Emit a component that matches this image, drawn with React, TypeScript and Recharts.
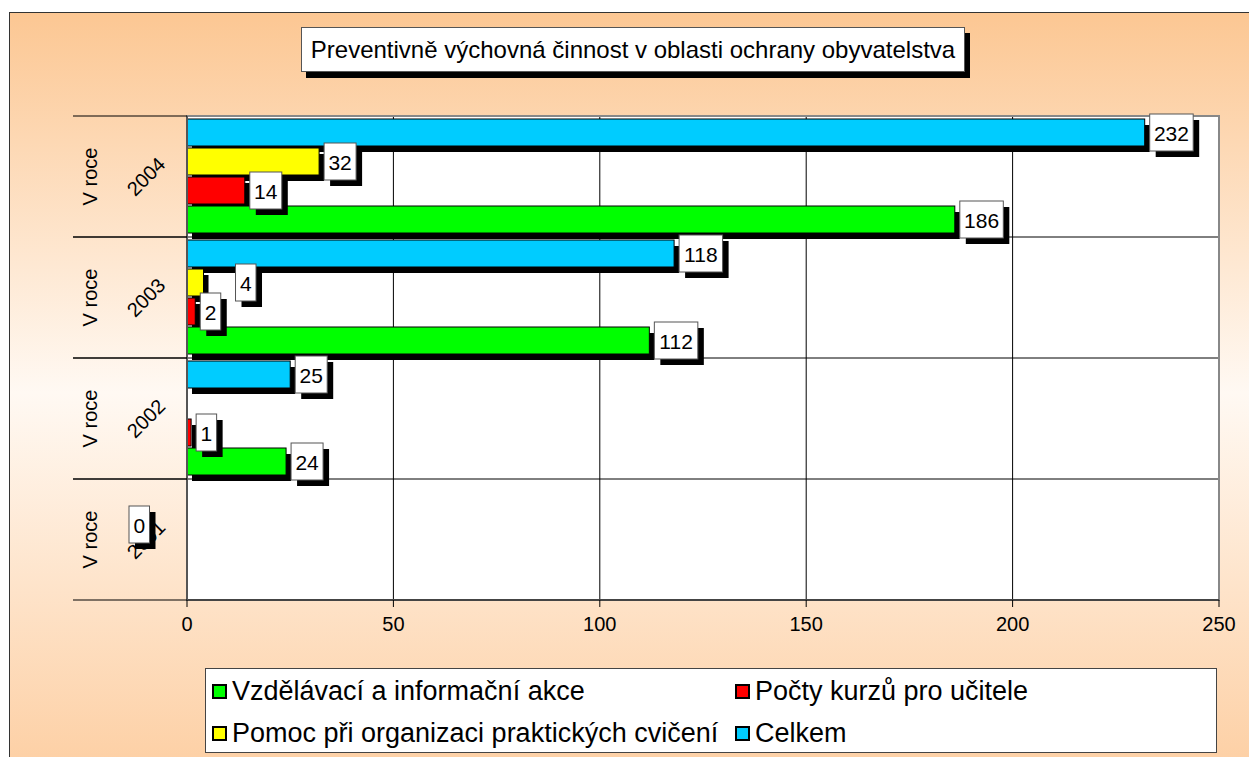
import { BarChart, Bar, XAxis, YAxis, CartesianGrid, LabelList, ReferenceArea } from 'recharts';

const FONT = "'Liberation Sans', Arial, sans-serif";

const title = 'Preventivně výchovná činnost v oblasti ochrany obyvatelstva';
const yearPrefix = 'V roce';
const years = ['2001', '2002', '2003', '2004'];

// series values, one per year (null = no value shown)
const vzdelavaci = [null, 24, 112, 186];
const pocty = [null, 1, 2, 14];
const pomoc = [0, null, 4, 32];
const celkem = [null, 25, 118, 232];

const xTicks = [0, 50, 100, 150, 200, 250];

const series = [
  { key: 'vzdelavaci', name: 'Vzdělávací a informační akce', color: '#00FF00' },
  { key: 'pocty', name: 'Počty kurzů pro učitele', color: '#FF0000' },
  { key: 'pomoc', name: 'Pomoc při organizaci praktických cvičení', color: '#FFFF00' },
  { key: 'celkem', name: 'Celkem', color: '#00CCFF' },
];

const data = years.map((year, i) => ({
  year,
  vzdelavaci: vzdelavaci[i],
  pocty: pocty[i],
  pomoc: pomoc[i],
  celkem: celkem[i],
}));

// bars drawn top-to-bottom inside each band
const barOrder = ['celkem', 'pomoc', 'pocty', 'vzdelavaci'];

// labels that were dragged sideways in the original (series:value -> px)
const labelNudge: Record<string, number> = { 'pomoc:4': 27 };

const ShadowBar = (props: any) => {
  const { x, y, width, height, fill } = props;
  if (!width || width <= 0 || !height) return null;
  return (
    <g>
      <rect x={x + 5} y={y + 6} width={width} height={height} fill="#000" />
      <rect x={x} y={y} width={width} height={height} fill={fill} stroke="#000" strokeWidth={1} />
    </g>
  );
};

const makeLabel = (seriesKey: string) => (props: any) => {
  const { value } = props;
  if (value === null || value === undefined) return null;
  const vb = props.viewBox && props.viewBox.height !== undefined ? props.viewBox : props;
  const x = Number(vb.x);
  const y = Number(vb.y);
  const w = Number(vb.width) || 0;
  const h = Number(vb.height) || 0;
  const text = String(value);
  const bw = text.length * 11.5 + 9;
  const bh = 37;
  const nudge = labelNudge[`${seriesKey}:${value}`] || 0;
  // Excel put the lone zero label left of the axis
  const bx = (value === 0 ? x - 58 : x + w + 5) + nudge;
  const by = y + h / 2 - bh / 2;
  return (
    <g>
      <rect x={bx + 6} y={by + 6} width={bw} height={bh} fill="#000" />
      <rect x={bx} y={by} width={bw} height={bh} fill="#fff" stroke="#555" strokeWidth={1} />
      <text
        x={bx + bw / 2}
        y={by + bh / 2 + 1}
        textAnchor="middle"
        dominantBaseline="central"
        fontFamily={FONT}
        fontSize={21}
        fill="#000"
      >
        {text}
      </text>
    </g>
  );
};

const CategoryTick = (props: any) => {
  const { x, y, payload } = props;
  const half = payload && payload.offset ? payload.offset : 60.5;
  return (
    <g>
      <line x1={x - 114} x2={x} y1={y - half} y2={y - half} stroke="#000" />
      <line x1={x - 114} x2={x} y1={y + half} y2={y + half} stroke="#000" />
      <text
        transform={`translate(${x - 97},${y}) rotate(-90)`}
        textAnchor="middle"
        dominantBaseline="central"
        fontFamily={FONT}
        fontSize={20}
        fill="#000"
      >
        {yearPrefix}
      </text>
      <text
        transform={`translate(${x - 41},${y}) rotate(-45)`}
        textAnchor="middle"
        dominantBaseline="central"
        fontFamily={FONT}
        fontSize={20}
        fill="#000"
      >
        {payload.value}
      </text>
    </g>
  );
};

const App = () => {
  const legendRows = [
    [series[0], series[1]],
    [series[2], series[3]],
  ];
  return (
    <div style={{ position: 'absolute', left: 0, top: 0, width: 1249, height: 757, overflow: 'hidden', background: '#fff' }}>
      <div
        style={{
          position: 'absolute',
          left: 9,
          top: 12,
          width: 1260,
          height: 760,
          border: '1px solid #333',
          background: 'linear-gradient(to bottom, #FCC793 0%, #FFF9F3 50%, #FDCFA3 100%)',
        }}
      />
      <div style={{ position: 'absolute', left: 0, top: 0 }}>
        <BarChart
          width={1249}
          height={757}
          data={data}
          layout="vertical"
          margin={{ top: 116, right: 30, bottom: 117, left: 0 }}
          barCategoryGap={3}
          barGap={2}
        >
          <CartesianGrid
            fill="#fff"
            stroke="#000"
            vertical
            horizontal
            horizontalCoordinatesGenerator={({ offset }: any) =>
              years.map((_, i) => offset.top + (i * offset.height) / years.length).concat(offset.top + offset.height)
            }
          />
          <ReferenceArea x1={0} x2={250} fill="none" stroke="#888" strokeWidth={2} ifOverflow="visible" />
          <XAxis
            type="number"
            domain={[0, 250]}
            ticks={xTicks}
            height={40}
            tickSize={7}
            tickMargin={10}
            axisLine={{ stroke: '#000' }}
            tickLine={{ stroke: '#000' }}
            tick={{ fontFamily: FONT, fontSize: 20, fill: '#000' }}
          />
          <YAxis
            type="category"
            dataKey="year"
            reversed
            width={187}
            tickSize={0}
            tickMargin={0}
            tickLine={false}
            axisLine={{ stroke: '#555', strokeWidth: 2 }}
            tick={<CategoryTick />}
            interval={0}
          />
          {barOrder.map((k) => {
            const s = series.find((q) => q.key === k)!;
            const Label = makeLabel(k);
            return (
              <Bar key={k} dataKey={k} name={s.name} fill={s.color} shape={<ShadowBar />} isAnimationActive={false}>
                <LabelList dataKey={k} content={<Label />} />
              </Bar>
            );
          })}
        </BarChart>
      </div>
      <div
        style={{
          position: 'absolute',
          left: 301,
          top: 27,
          width: 662,
          height: 43,
          background: '#fff',
          border: '1px solid #555',
          boxShadow: '5px 6px 0 #000',
          fontFamily: FONT,
          fontSize: 24,
          lineHeight: '43px',
          textAlign: 'center',
          whiteSpace: 'nowrap',
          color: '#000',
        }}
      >
        {title}
      </div>
      <div
        style={{
          position: 'absolute',
          left: 205,
          top: 668,
          width: 1010,
          height: 83,
          background: '#fff',
          border: '1px solid #444',
          fontFamily: FONT,
          fontSize: 27,
          color: '#000',
        }}
      >
        {legendRows.map((row, r) =>
          row.map((s, c) => (
            <div
              key={s.key}
              style={{
                position: 'absolute',
                left: c === 0 ? 6 : 529,
                top: r === 0 ? 5 : 47,
                height: 34,
                display: 'flex',
                alignItems: 'center',
                whiteSpace: 'nowrap',
              }}
            >
              <span
                style={{
                  display: 'inline-block',
                  width: 11,
                  height: 11,
                  background: s.color,
                  border: '2px solid #000',
                  marginRight: 5,
                }}
              />
              {s.name}
            </div>
          ))
        )}
      </div>
    </div>
  );
};

export default App;
